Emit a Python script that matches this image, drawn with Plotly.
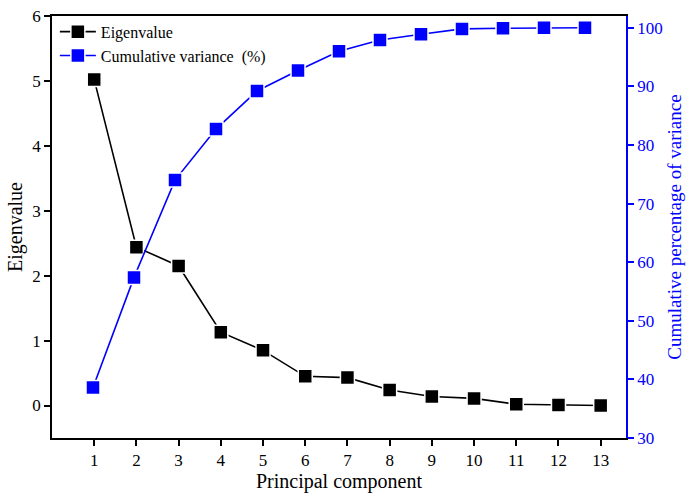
import plotly.graph_objects as go

# Principal component analysis results
components = list(range(1, 14))
eigenvalues = [5.02, 2.44, 2.15, 1.13, 0.85, 0.45, 0.43, 0.24, 0.14, 0.11, 0.02, 0.01, 0.00]
cumulative_variance = [38.6, 57.4, 74.0, 82.7, 89.2, 92.7, 96.0, 97.9, 98.9, 99.8, 99.9, 100.0, 100.0]
x_ticks = list(range(1, 14))
left_ticks = [0, 1, 2, 3, 4, 5, 6]
right_ticks = [30, 40, 50, 60, 70, 80, 90, 100]

FONT = "Liberation Serif, Times New Roman, serif"
BLUE = "#0000FF"

fig = go.Figure()

fig.add_trace(go.Scatter(
    x=components, y=eigenvalues, name="Eigenvalue",
    mode="lines+markers",
    line=dict(color="black", width=1.6),
    marker=dict(symbol="square", size=14, color="black",
                line=dict(color="white", width=1.5)),
    xaxis="x", yaxis="y",
))

fig.add_trace(go.Scatter(
    x=components, y=cumulative_variance, name="Cumulative variance  (%)",
    mode="lines+markers",
    line=dict(color=BLUE, width=1.6),
    marker=dict(symbol="square", size=14, color=BLUE,
                line=dict(color="white", width=1.5)),
    xaxis="x2", yaxis="y2",
))

fig.update_layout(
    width=688, height=494,
    margin=dict(l=52, r=62, t=16, b=56),
    paper_bgcolor="white", plot_bgcolor="white",
    font=dict(family=FONT, size=17, color="black"),
    showlegend=True,
    legend=dict(x=0.005, y=1.003, xanchor="left", yanchor="top",
                bgcolor="rgba(0,0,0,0)", font=dict(size=16, family=FONT),
                tracegroupgap=0, itemwidth=36),
    xaxis=dict(
        range=[0, 13.6], tickvals=x_ticks, ticktext=[str(v) for v in x_ticks],
        showgrid=False, zeroline=False, automargin=False,
        showline=True, linecolor="black", linewidth=1.5, mirror=True,
        ticks="outside", ticklen=6, tickwidth=1.5, tickcolor="black",
        title=dict(text="Principal component", font=dict(size=20, family=FONT), standoff=4),
    ),
    xaxis2=dict(
        range=[0, 14], overlaying="x", anchor="y2", visible=False,
        showgrid=False, zeroline=False, automargin=False,
    ),
    yaxis=dict(
        range=[-0.5, 6], tickvals=left_ticks,
        showgrid=False, zeroline=False, automargin=False,
        showline=True, linecolor="black", linewidth=1.5,
        ticks="outside", ticklen=6, tickwidth=1.5, tickcolor="black",
        title=dict(text="Eigenvalue", font=dict(size=20, family=FONT), standoff=4),
    ),
    yaxis2=dict(
        range=[30, 102], tickvals=right_ticks,
        overlaying="y", side="right", anchor="x2", automargin=False,
        showgrid=False, zeroline=False,
        showline=True, linecolor=BLUE, linewidth=1.5,
        ticks="outside", ticklen=6, tickwidth=1.5, tickcolor=BLUE,
        tickfont=dict(color=BLUE, size=17, family=FONT),
        title=dict(text="Cumulative percentage of variance",
                   font=dict(color=BLUE, size=19, family=FONT), standoff=6),
    ),
)

fig.write_html("out.html")
